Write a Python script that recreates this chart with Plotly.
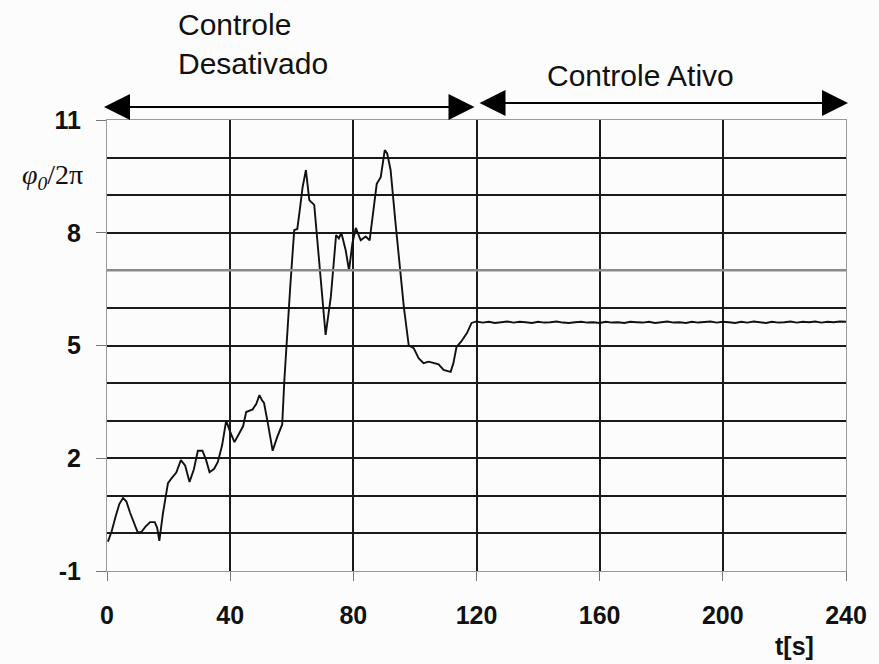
import plotly.graph_objects as go

# ---- data ----
t_off = [0.3, 1.5, 2.8, 4.0, 5.2, 6.3, 7.5, 8.8, 10.0, 11.3, 12.5, 14.0, 15.5, 16.3, 17.0,
         18.2, 19.8, 21.0, 22.5, 24.0, 25.4, 26.8, 28.2, 29.5, 31.0, 32.2, 33.3, 34.8, 36.0,
         37.4, 38.7, 40.0, 41.4, 43.0, 44.2, 45.2, 46.5, 47.3, 48.5, 49.5, 50.3, 51.0, 52.3,
         53.8, 55.2, 56.5, 56.9, 57.6, 58.2, 59.5, 60.8, 61.8, 62.6, 63.5, 64.6, 65.1, 65.7,
         67.3, 68.9, 71.0, 72.7, 73.7, 74.4, 75.3, 76.1, 77.5, 78.6, 79.7, 80.8, 82.4, 84.0,
         85.3, 86.7, 87.6, 88.9, 90.2, 91.0, 92.1, 93.7, 94.8, 96.4, 98.0, 99.6, 101.2, 102.8,
         104.5, 106.1, 107.7, 109.3, 111.6, 112.5, 113.5, 115.0, 116.9, 118.4, 119.5]
phi_off = [-0.22, 0.05, 0.45, 0.78, 0.94, 0.85, 0.55, 0.25, 0.02, 0.05, 0.18, 0.30, 0.30, 0.15, -0.20,
           0.55, 1.34, 1.47, 1.62, 1.95, 1.80, 1.37, 1.70, 2.20, 2.20, 1.95, 1.63, 1.72, 1.90,
           2.35, 3.00, 2.70, 2.43, 2.67, 2.85, 3.23, 3.28, 3.30, 3.45, 3.68, 3.55, 3.47, 2.90,
           2.20, 2.55, 2.83, 2.90, 4.08, 4.96, 6.55, 8.07, 8.10, 8.60, 9.20, 9.67, 9.30, 8.87,
           8.74, 7.19, 5.28, 6.30, 7.27, 7.94, 7.85, 8.00, 7.54, 7.00, 7.72, 8.13, 7.80, 7.90,
           7.80, 8.69, 9.30, 9.48, 10.20, 10.11, 9.67, 8.26, 7.27, 6.03, 5.00, 4.93, 4.66, 4.53,
           4.57, 4.53, 4.50, 4.35, 4.30, 4.53, 4.96, 5.10, 5.33, 5.60, 5.62]

t_on = [120, 122, 124, 126, 128, 130, 132, 134, 136, 138, 140, 142, 144, 146, 148, 150,
        152, 154, 156, 158, 160, 162, 164, 166, 168, 170, 172, 174, 176, 178, 180, 182,
        184, 186, 188, 190, 192, 194, 196, 198, 200, 202, 204, 206, 208, 210, 212, 214,
        216, 218, 220, 222, 224, 226, 228, 230, 232, 234, 236, 238, 240]
phi_on = [5.64, 5.61, 5.63, 5.60, 5.62, 5.64, 5.61, 5.63, 5.62, 5.60, 5.63, 5.61, 5.62, 5.64, 5.61, 5.60,
          5.62, 5.63, 5.61, 5.62, 5.60, 5.63, 5.61, 5.62, 5.60, 5.63, 5.62, 5.61, 5.63, 5.60, 5.62, 5.64,
          5.61, 5.62, 5.60, 5.63, 5.61, 5.62, 5.64, 5.61, 5.63, 5.62, 5.60, 5.63, 5.61, 5.64, 5.62, 5.60,
          5.63, 5.61, 5.62, 5.64, 5.61, 5.63, 5.62, 5.64, 5.61, 5.63, 5.62, 5.64, 5.63]

x_ticks = [0, 40, 80, 120, 160, 200, 240]
y_ticks = [-1, 2, 5, 8, 11]
y_ticktext = ["-1", "2", "5", "8", "11"]

label_off = "Controle<br>Desativado"
label_on = "Controle Ativo"
x_title = "t[s]"
y_title = "<i>φ<sub>0</sub></i>/2π"

t = t_off + t_on
phi = phi_off + phi_on

fig = go.Figure()
fig.add_trace(go.Scatter(x=t, y=phi, mode="lines",
                         line=dict(color="#111111", width=1.9),
                         showlegend=False, hoverinfo="skip"))

grid_col = "#1a1a1a"
fig.update_layout(
    width=879, height=664,
    margin=dict(l=107, r=30, t=120, b=93),
    paper_bgcolor="#fcfcfc", plot_bgcolor="#fcfcfc",
    font=dict(family="Liberation Sans, Arial, sans-serif", color="#111111"),
    showlegend=False,
)
fig.update_xaxes(
    range=[0, 240], tickmode="array", tickvals=x_ticks,
    showgrid=True, gridcolor=grid_col, gridwidth=2,
    zeroline=False, showline=True, mirror=True, linecolor="#9a9a9a", linewidth=1,
    ticks="outside", ticklen=9, tickcolor="#777777", tickwidth=1,
    ticklabelstandoff=13,
    tickfont=dict(family="Liberation Sans, Arial, sans-serif", size=25, color="#111111",
                  weight="bold"),
)
fig.update_yaxes(
    range=[-1, 11], tickmode="array", tickvals=y_ticks, ticktext=y_ticktext,
    showgrid=True, gridcolor=grid_col, gridwidth=2,
    minor=dict(dtick=1, tick0=-1, showgrid=True, gridcolor=grid_col, gridwidth=2, ticks=""),
    zeroline=False, showline=True, mirror=True, linecolor="#9a9a9a", linewidth=1,
    ticks="outside", ticklen=10, tickcolor="#777777", tickwidth=1,
    ticklabelstandoff=10,
    tickfont=dict(family="Liberation Sans, Arial, sans-serif", size=25, color="#111111",
                  weight="bold"),
)

# lighter grid line at y=7, as in the reference
fig.add_shape(type="line", xref="paper", yref="y", x0=0, x1=1, y0=7, y1=7,
              line=dict(color="#8a8a8a", width=2.5), layer="above")

# double-headed arrows marking the two regimes (above the plot area)
fig.add_annotation(x=0.4973, y=1.0288, xref="paper", yref="paper",
                   ax=-372, ay=0, axref="pixel", ayref="pixel",
                   text="", showarrow=True, arrowside="end+start", arrowhead=2,
                   arrowsize=2.6, arrowwidth=2, arrowcolor="#000000",
                   standoff=0, startstandoff=0)
fig.add_annotation(x=1.0027, y=1.0377, xref="paper", yref="paper",
                   ax=-370, ay=0, axref="pixel", ayref="pixel",
                   text="", showarrow=True, arrowside="end+start", arrowhead=2,
                   arrowsize=2.6, arrowwidth=2, arrowcolor="#000000",
                   standoff=0, startstandoff=0)

fig.add_annotation(text=label_off, xref="paper", yref="paper", x=0.094, y=1.1685,
                   xanchor="left", yanchor="middle", align="left", showarrow=False,
                   font=dict(size=30, color="#111111"))
fig.add_annotation(text=label_on, xref="paper", yref="paper", x=0.593, y=1.0976,
                   xanchor="left", yanchor="middle", align="left", showarrow=False,
                   font=dict(size=30, color="#111111"))
fig.add_annotation(text=x_title, xref="paper", yref="paper", x=0.93, y=-0.166,
                   xanchor="center", yanchor="middle", showarrow=False,
                   font=dict(size=25, color="#111111", weight="bold"))
fig.add_annotation(text=y_title, xref="paper", yref="paper", x=-0.074, y=0.874,
                   xanchor="center", yanchor="middle", showarrow=False,
                   font=dict(family="Liberation Serif, Times New Roman, serif", size=28,
                             color="#111111"))

fig.write_html("out.html")
